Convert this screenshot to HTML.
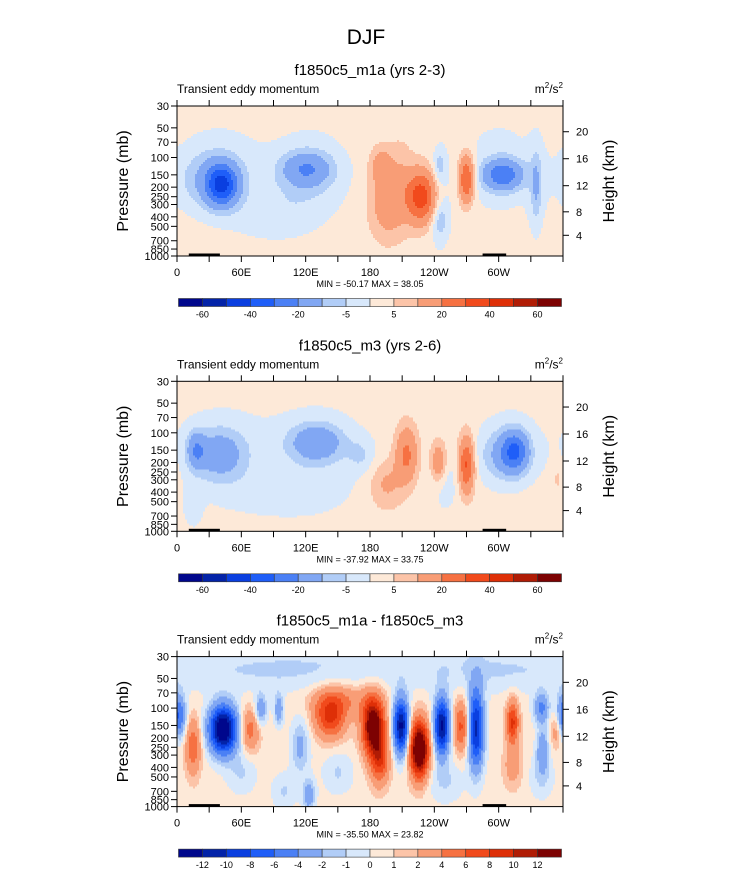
<!DOCTYPE html>
<html><head><meta charset="utf-8">
<style>
body{margin:0;background:#fff;}
svg{display:block;font-family:"Liberation Sans",sans-serif;}
</style></head>
<body>
<svg id="chart" width="733" height="888" viewBox="0 0 733 888" xmlns="http://www.w3.org/2000/svg">
<text x="366" y="44" font-size="21" text-anchor="middle">DJF</text>
</svg>
<script>
// ---- data ----
const panelTitles = ["f1850c5_m1a (yrs 2-3)", "f1850c5_m3 (yrs 2-6)", "f1850c5_m1a - f1850c5_m3"];
const minMaxText = ["MIN = -50.17  MAX =  38.05", "MIN = -37.92  MAX =  33.75", "MIN = -35.50  MAX =  23.82"];
const levelsAbs = [-60,-50,-40,-30,-20,-10,-5,0,5,10,20,30,40,50,60];
const levelsDiff = [-12,-10,-8,-6,-4,-2,-1,0,1,2,4,6,8,10,12];
const levelLabelsAbs = ["-60","-40","-20","-5","5","20","40","60"];
const levelLabelsDiff = ["-12","-10","-8","-6","-4","-2","-1","0","1","2","4","6","8","10","12"];
const colors = ["#00078c","#0323a8","#0a3fe0","#1f5ef8","#4b80f5","#81a7f3","#b1cdf7","#d8e8fb","#fde9d8","#fcc4a8","#f89d76","#f67142","#f14a1c","#de2f07","#b01c05","#7d0202"];
const pressureTicks = [30,50,70,100,150,200,250,300,400,500,700,850,1000];
const heightTicks = [4,8,12,16,20];
const lonTickLabels = ["0","60E","120E","180","120W","60W"];
const backgrounds = [2.5, 2.5, 0.5];
// blobs: [lon, pressure(mb), amplitude, lon width(deg), ln-p width]
const blobs1 = [
 [40,140,-5,30,0.8],[125,140,-5,28,0.8],[300,130,-5,25,0.8],[245,300,-5,8,0.8],[335,200,-5,6,0.8],[90,420,-5,25,0.35],
 [42,190,-36,10,0.33],[32,170,-10,20,0.45],[121,130,-18,16,0.28],[115,210,-3,22,0.4],
 [228,250,34,10,0.42],[195,300,12,11,0.55],[190,120,11,7,0.3],[208,180,6,9,0.7],
 [270,165,30,5,0.38],[304,150,-26,13,0.25],[245,120,-8,4,0.28],[245,430,-8,5,0.3],[335,200,-7,3,0.55]
];
const blobs2 = [
 [40,160,-5,32,0.8],[130,150,-5,35,0.8],[310,150,-5,22,0.7],[250,320,-5,10,0.5],[100,430,-5,35,0.35],[15,600,-5,6,0.3],
 [18,150,-16,6,0.3],[40,165,-14,16,0.4],[130,125,-17,17,0.3],[172,170,-6,9,0.28],
 [214,165,20,7,0.45],[195,330,9,11,0.4],[244,200,16,5,0.33],[270,210,30,5,0.45],
 [315,155,-28,9,0.33],[300,170,-8,14,0.4],[355,280,5,4,0.3]
];
const blobs3 = [
 [180,32,-1.1,200,0.5],[90,45,-0.8,60,0.3],[300,45,-0.8,50,0.3],
 [43,165,-16,9,0.38],[1,121,-7,5,0.35],[15,245,5,5,0.45],[68,166,4.5,6,0.35],[78,104,-4,4,0.25],[95,104,-4,3,0.25],
 [115,245,-3,6,0.45],[143,121,8,10,0.35],[183,153,15,7,0.45],[189,333,7,6,0.4],[155,82,3,20,0.25],
 [209,153,-13,5,0.45],[226,263,17,6,0.45],[247,153,-13,5,0.45],[265,153,6,5,0.4],[279,160,-11,5,0.65],
 [313,140,8,4,0.35],[340,100,-5,5,0.25],[341,263,-4,4,0.35],[354,166,3,4,0.3],[313,390,2.5,6,0.35],
 [123,770,-4,4,0.25],[60,450,-1.6,10,0.35],[150,450,-1.6,10,0.35],[250,550,-1.6,12,0.35],[340,500,-1.6,8,0.35],[100,700,-1.6,8,0.3]
];
const landSegments = [[11,40],[285,307]];

// ---- layout ----
const svg = document.getElementById('chart');
const NS = "http://www.w3.org/2000/svg";
const PX = 177, PW = 386, PH = 150, TOP0 = 106, OFF = 275.3;
const LN30 = Math.log(30), LNR = Math.log(1000/30);
function mk(tag, attrs, parent){const e=document.createElementNS(NS,tag);for(const k in attrs)e.setAttribute(k,attrs[k]);(parent||svg).appendChild(e);return e;}
function xOf(lon){return PX + lon/360*PW;}
function yOf(p, top){return top + (Math.log(p)-LN30)/LNR*PH;}
function pOfKm(z){const m=z*1000; if(m<=11000) return 1013.25*Math.pow(1-2.2558e-5*m,5.2559); return 226.32*Math.exp(-(m-11000)/6341.6);}
function field(blobs,bg,lon,lnp){let v=bg;for(const b of blobs){let dx=Math.abs(lon-b[0]);if(dx>180)dx=360-dx;const dy=lnp-Math.log(b[1]);v+=b[2]*Math.exp(-0.5*((dx/b[3])**2+(dy/b[4])**2));}return v;}
function levelIndex(levels,v){let i=0;while(i<levels.length&&v>=levels[i])i++;return i;}

const allBlobs=[blobs1,blobs2,blobs3];
for(let k=0;k<3;k++){
  const top = TOP0 + k*OFF;
  const g = mk('g',{});
  
  
  const levels = k<2?levelsAbs:levelsDiff;
  const t = mk('text',{x:370,y:top-31,'font-size':15,'text-anchor':'middle'},g);
  t.textContent=panelTitles[k];
  
  
  const s = mk('text',{x:PX,y:top-13,'font-size':12},g);
  s.textContent='Transient eddy momentum';
  
  
  const u = mk('text',{x:PX+PW,y:top-13,'font-size':12,'text-anchor':'end'},g);
  u.innerHTML='m<tspan font-size="8" dy="-5">2</tspan><tspan dy="5">/s</tspan><tspan font-size="8" dy="-5">2</tspan>';
  
  
  const fg = mk('g',{'shape-rendering':'crispEdges'},g);
  
  
  const cs=2;
  for(let y=0;y<PH;y+=cs){
    const lnp = LN30 + (y+cs/2)/PH*LNR;
    let runStart=0, runC=-1;
    for(let x=0;x<=PW;x+=cs){
      let c=-2;
      if(x<PW){const lon=(x+cs/2)/PW*360;c=levelIndex(levels,field(allBlobs[k],backgrounds[k],lon,lnp));}
      if(c!==runC){
        if(runC>=0){mk('rect',{x:PX+runStart,y:top+y,width:Math.min(x,PW)-runStart,height:cs,fill:colors[runC]},fg);}
        runStart=x;runC=c;
      }
    }
  }
  for(const L of landSegments){
    const r=mk('rect',{x:xOf(L[0]),y:top+PH-2.5,width:xOf(L[1])-xOf(L[0]),height:2.5,fill:'#000'},g);
    
    
  }
  mk('rect',{x:PX,y:top,width:PW,height:PH,fill:'none',stroke:'#000','stroke-width':1},g);
  for(const p of pressureTicks){
    const y=yOf(p,top);
    mk('line',{x1:PX-6,x2:PX,y1:y,y2:y,stroke:'#000'},g);
    const l=mk('text',{x:PX-8,y:y+4,'font-size':11,'text-anchor':'end'},g);
    l.textContent=p;
    
    
  }
  for(const z of heightTicks){
    const y=yOf(pOfKm(z),top);
    mk('line',{x1:PX+PW,x2:PX+PW+6,y1:y,y2:y,stroke:'#000'},g);
    const l=mk('text',{x:PX+PW+13,y:y+4,'font-size':11},g);
    l.textContent=z;
    
    
  }
  for(let i=0;i<=12;i++){
    const x=xOf(i*30);
    mk('line',{x1:x,x2:x,y1:top-6,y2:top,stroke:'#000'},g);
    mk('line',{x1:x,x2:x,y1:top+PH,y2:top+PH+6,stroke:'#000'},g);
    if(i%2===0&&i<12){
      const l=mk('text',{x:x,y:top+PH+20,'font-size':11,'text-anchor':'middle'},g);
      l.textContent=lonTickLabels[i/2];
      
      
    }
  }
  const ya=mk('text',{transform:`translate(128,${top+PH/2}) rotate(-90)`,'font-size':16,'text-anchor':'middle'},g);
  ya.textContent='Pressure (mb)';
  
  
  const yb=mk('text',{transform:`translate(614,${top+PH/2}) rotate(-90)`,'font-size':16,'text-anchor':'middle'},g);
  yb.textContent='Height (km)';
  
  
  const mm=mk('text',{x:370,y:top+PH+31,'font-size':9,'text-anchor':'middle'},g);
  mm.textContent=minMaxText[k];
  
  
  const cb=mk('g',{},g);
  
  
  const cy=top+192.5, cx0=178.5, cw=(561.5-178.5)/16;
  for(let i=0;i<16;i++){
    mk('rect',{x:cx0+i*cw,y:cy,width:cw,height:8,fill:colors[i],stroke:'#333','stroke-width':0.6},cb);
  }
  const labs=k<2?levelLabelsAbs:levelLabelsDiff;
  labs.forEach((lab,i)=>{
    const bi = k<2 ? 2*i+1 : i+1;
    const l=mk('text',{x:cx0+bi*cw,y:cy+19,'font-size':9,'text-anchor':'middle'},cb);
    l.textContent=lab;
    
    
  });
}
</script>
</body></html>
